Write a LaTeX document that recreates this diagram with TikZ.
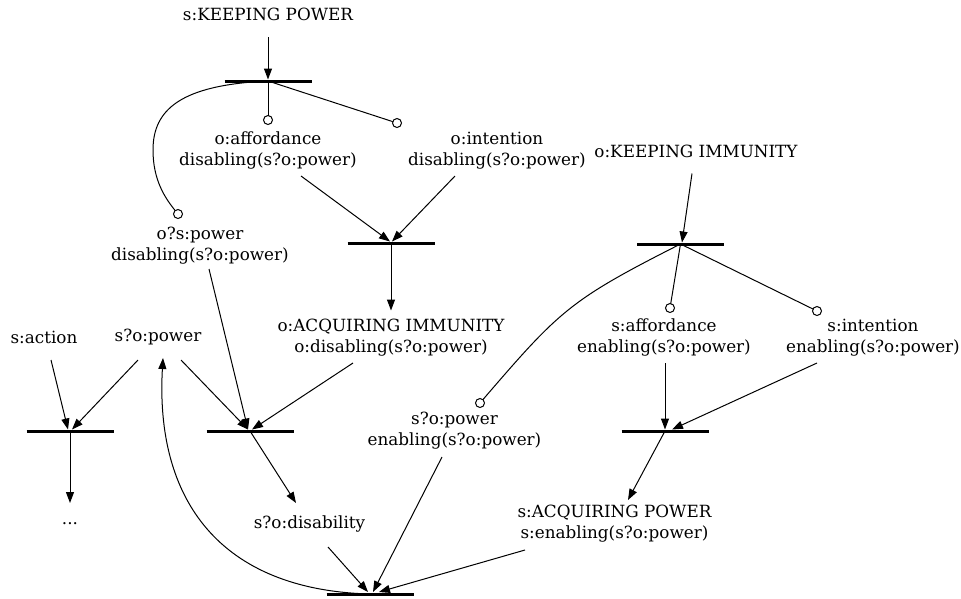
\documentclass[tikz,border=0pt]{standalone}
\usepackage{fontspec}
\setmainfont{DejaVu Serif}
\usetikzlibrary{arrows.meta}
\begin{document}
\begin{tikzpicture}[x=1pt,y=-1pt,line width=1pt,
  txt/.style={align=center,font=\fontsize{16.8}{21}\selectfont,inner sep=0pt},
  barline/.style={line width=3pt},
  port/.style={circle,draw,line width=1pt,minimum size=9pt,inner sep=0pt,outer sep=0pt,fill=white},
  arr/.style={-{Triangle[length=11pt,width=8pt]}}]
\useasboundingbox (0,0) rectangle (961,598);
% bars
\coordinate (b1) at (268,81);
\coordinate (b2) at (391,243);
\coordinate (b3) at (680.5,244);
\coordinate (b4) at (70,431);
\coordinate (b5) at (250,431);
\coordinate (b6) at (665,431);
\coordinate (b7) at (370,594);
\foreach \b in {b1,b2,b3,b4,b5,b6,b7}
  \draw[barline] ([xshift=-43.5pt]\b) -- ([xshift=43.5pt]\b);
% text nodes
\node[txt] (kp) at (268,14) {s:KEEPING POWER};
\node[txt] (affo) at (268,150.5) {o:affordance\\disabling(s?o:power)};
\node[txt] (into) at (497,150.5) {o:intention\\disabling(s?o:power)};
\node[txt] (ki) at (696,151.5) {o:KEEPING IMMUNITY};
\node[txt] (os) at (200,245.5) {o?s:power\\disabling(s?o:power)};
\node[txt] (act) at (44,337) {s:action};
\node[txt] (sop) at (158,337) {s?o:power};
\node[txt] (acqI) at (391,337.5) {o:ACQUIRING IMMUNITY\\o:disabling(s?o:power)};
\node[txt] (affs) at (664,337.5) {s:affordance\\enabling(s?o:power)};
\node[txt] (ints) at (873,337.5) {s:intention\\enabling(s?o:power)};
\node[txt] (spe) at (454.5,431) {s?o:power\\enabling(s?o:power)};
\node[txt] (dots) at (70,524) {...};
\node[txt] (dis) at (309.5,524) {s?o:disability};
\node[txt] (acqP) at (614.5,524) {s:ACQUIRING POWER\\s:enabling(s?o:power)};
% ports
\node[port] (caffo) at (268,120) {};
\node[port] (cinto) at (397,123) {};
\node[port] (cos) at (178,214) {};
\node[port] (caffs) at (670,308) {};
\node[port] (cints) at (817,311) {};
\node[port] (cspe) at (480,403) {};
\coordinate (bend) at (153,150);
% top-left transition
\draw[arr] ([shift={(0,23)}]kp.center) -- ([shift={(0,-1.5)}]b1);
\draw (b1) -- (caffo);
\draw (b1) -- (cinto);
\draw (b1) .. controls (180,85) and (153,110) .. (bend)
  .. controls (153,180) and (165,198) .. (cos);
\draw[arr] ([shift={(33,25.5)}]affo.center) -- ([shift={(-1,-1.5)}]b2);
\draw[arr] ([shift={(-42,25.5)}]into.center) -- ([shift={(1,-1.5)}]b2);
\draw[arr] (b2) -- ([shift={(0,-27)}]acqI.center);
% middle-left transitions
\draw[arr] ([shift={(-38,25.5)}]acqI.center) -- ([shift={(2,-1.5)}]b5);
\draw[arr] ([shift={(23,23)}]sop.center) -- ([shift={(-2,-1.5)}]b5);
\draw[arr] ([shift={(9,23.5)}]os.center) -- ([shift={(-2,-1.5)}]b5);
\draw[arr] (b5) -- ([shift={(-13.5,-21)}]dis.center);
\draw[arr] ([shift={(7,23)}]act.center) -- ([shift={(-2,-1.5)}]b4);
\draw[arr] ([shift={(-20,23)}]sop.center) -- ([shift={(2,-1.5)}]b4);
\draw[arr] (b4) -- ([shift={(0,-21)}]dots.center);
% right transitions
\draw[arr] ([shift={(-4,22)}]ki.center) -- ([shift={(1.5,-1.5)}]b3);
\draw (b3) -- (caffs);
\draw (b3) -- (cints);
\draw (b3) .. controls (570,300) and (560,310) .. (cspe);
\draw[arr] ([shift={(1,25.5)}]affs.center) -- ([shift={(0,-1.5)}]b6);
\draw[arr] ([shift={(-56,25.5)}]ints.center) -- ([shift={(7,-1.5)}]b6);
\draw[arr] (b6) -- ([shift={(13.5,-24)}]acqP.center);
% bottom transition
\draw[arr] ([shift={(18.5,23)}]dis.center) -- ([shift={(-2,-2)}]b7);
\draw[arr] ([shift={(-12.5,26)}]spe.center) -- ([shift={(3,-2)}]b7);
\draw[arr] ([shift={(-89.5,26)}]acqP.center) -- ([shift={(9,-2)}]b7);
\draw[arr] (b7) .. controls (220,590) and (155,500) .. ([shift={(5,21)}]sop.center);
\end{tikzpicture}
\end{document}
